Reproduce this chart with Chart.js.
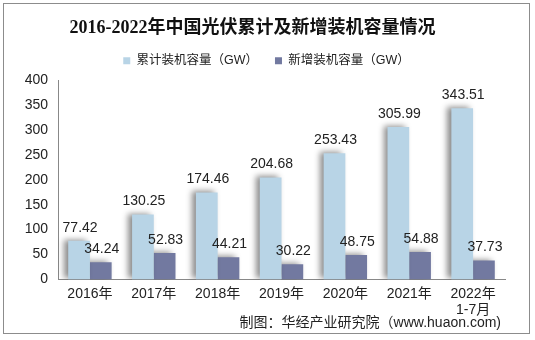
<!DOCTYPE html>
<html>
<head>
<meta charset="utf-8">
<script src="https://cdn.jsdelivr.net/npm/chart.js@4"></script>
<style>
  body { margin: 0; background: #fff; }
  #wrap { position: relative; width: 535px; height: 340px; }
  #frame { position: absolute; left: 3px; top: 3px; width: 527px; height: 331px; border: 1px solid #8c8c8c; box-sizing: border-box; pointer-events: none; }
  #src { position: absolute; right: 34px; top: 311px; font: 14px 'Liberation Sans', 'Noto Sans CJK SC', sans-serif; color: #222; }
</style>
</head>
<body>
<div id="wrap">
  <canvas id="myChart" width="535" height="340"></canvas>
  <div id="frame"></div>
  <div id="src">制图：华经产业研究院（www.huaon.com)</div>
</div>
<script>
// 年份ラベル（最後は2行）
const years = ['2016年', '2017年', '2018年', '2019年', '2020年', '2021年', ['2022年', '1-7月']];
const cumulative = [77.42, 130.25, 174.46, 204.68, 253.43, 305.99, 343.51];
const added = [34.24, 52.83, 44.21, 30.22, 48.75, 54.88, 37.73];
const yTicks = [0, 50, 100, 150, 200, 250, 300, 350, 400];

const baseFont = "'Liberation Sans', 'Noto Sans CJK SC', sans-serif";

// 凡例の下に少し余白を足し、少し右へずらす
const legendGap = {
  id: 'legendGap',
  beforeInit(chart) {
    const origFit = chart.legend.fit;
    chart.legend.fit = function () {
      origFit.bind(chart.legend)();
      this.height += 3;
    };
  },
  afterLayout(chart) {
    chart.legend.left += 14;
    chart.legend.right += 14;
  }
};

// 棒の左側の影
const shadowPlugin = {
  id: 'barShadow',
  beforeDatasetDraw(chart) {
    const c = chart.ctx;
    c.save();
    c.shadowColor = 'rgba(0,0,0,0.45)';
    c.shadowBlur = 6;
    c.shadowOffsetX = -4;
    c.shadowOffsetY = -1;
  },
  afterDatasetDraw(chart) {
    chart.ctx.restore();
  }
};

// 値ラベル
const valuePlugin = {
  id: 'values',
  afterDatasetsDraw(chart) {
    const c = chart.ctx;
    c.save();
    c.font = '14px ' + baseFont;
    c.fillStyle = '#222';
    c.textAlign = 'center';
    c.textBaseline = 'bottom';
    chart.data.datasets.forEach((ds, i) => {
      chart.getDatasetMeta(i).data.forEach((bar, j) => {
        c.fillText(ds.data[j].toFixed(2), bar.x + 1, bar.y - 6);
      });
    });
    c.restore();
  }
};

const ctx = document.getElementById('myChart').getContext('2d');

new Chart(ctx, {
  type: 'bar',
  data: {
    labels: years,
    datasets: [
      {
        label: '累计装机容量（GW）  ',
        data: cumulative,
        backgroundColor: '#b8d4e6',
        categoryPercentage: 0.68,
        barPercentage: 1.0
      },
      {
        label: '新增装机容量（GW）',
        data: added,
        backgroundColor: '#7279a0',
        categoryPercentage: 0.68,
        barPercentage: 1.0
      }
    ]
  },
  plugins: [legendGap, shadowPlugin, valuePlugin],
  options: {
    responsive: false,
    animation: false,
    layout: {
      padding: { left: 0, right: 30, top: 0, bottom: 20 }
    },
    scales: {
      x: {
        grid: { display: false, drawTicks: true, tickLength: 5 },
        border: { color: '#888' },
        ticks: {
          color: '#222',
          font: { size: 14, family: baseFont },
          padding: 1,
          maxRotation: 0
        }
      },
      y: {
        min: 0,
        max: 400,
        afterFit(scale) { scale.width = 58; },
        afterBuildTicks(scale) { scale.ticks = yTicks.map(v => ({ value: v })); },
        grid: { display: false, drawTicks: true, tickLength: 5 },
        border: { color: '#888' },
        ticks: {
          color: '#222',
          font: { size: 14, family: baseFont },
          padding: 5
        }
      }
    },
    plugins: {
      title: {
        display: true,
        text: '2016-2022年中国光伏累计及新增装机容量情况',
        color: '#111',
        font: { size: 18, weight: 'bold', family: "'Liberation Serif', 'Noto Sans CJK SC', serif" },
        padding: { top: 18, bottom: 5 }
      },
      legend: {
        position: 'top',
        labels: {
          boxWidth: 7,
          boxHeight: 7,
          padding: 10,
          color: '#222',
          font: { size: 12.5, family: baseFont }
        }
      },
      tooltip: { enabled: false }
    }
  }
});
</script>
</body>
</html>
